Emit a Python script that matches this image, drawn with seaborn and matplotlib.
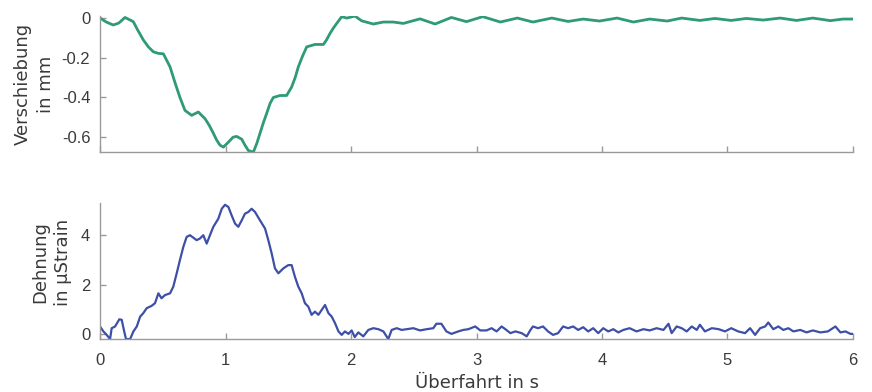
import numpy as np
import pandas as pd
import matplotlib
matplotlib.use("Agg")
import matplotlib.pyplot as plt
import seaborn as sns

# ---- data: displacement (mm) ----
t_disp = [0.0, 0.05, 0.106, 0.15, 0.199, 0.265, 0.30, 0.345, 0.385, 0.425, 0.465, 0.505, 0.558,
          0.60, 0.637, 0.677, 0.73, 0.783, 0.837, 0.87, 0.903, 0.93, 0.956, 0.983, 1.023, 1.06,
          1.089, 1.129, 1.155, 1.182, 1.222, 1.25, 1.275, 1.30, 1.328, 1.355, 1.381, 1.434, 1.487,
          1.527, 1.555, 1.58, 1.615, 1.647, 1.713, 1.78, 1.805, 1.833, 1.86, 1.886, 1.926, 1.966,
          2.032, 2.085, 2.178, 2.258, 2.337, 2.417, 2.55, 2.67, 2.80, 2.92, 3.05, 3.19, 3.325,
          3.45, 3.60, 3.73, 3.85, 3.98, 4.12, 4.25, 4.38, 4.52, 4.635, 4.78, 4.90, 5.03, 5.15,
          5.285, 5.42, 5.55, 5.68, 5.82, 5.92, 6.0]
disp = [0.0, -0.02, -0.035, -0.025, 0.003, -0.018, -0.06, -0.11, -0.145, -0.17, -0.178, -0.18, -0.246,
        -0.33, -0.40, -0.465, -0.49, -0.473, -0.507, -0.54, -0.58, -0.615, -0.64, -0.65, -0.625, -0.60,
        -0.596, -0.61, -0.64, -0.667, -0.675, -0.63, -0.58, -0.53, -0.48, -0.43, -0.40, -0.39, -0.39,
        -0.347, -0.30, -0.246, -0.19, -0.145, -0.133, -0.133, -0.11, -0.077, -0.05, -0.027, 0.007, 0.0,
        0.01, -0.014, -0.03, -0.02, -0.02, -0.027, -0.004, -0.03, 0.003, -0.018, 0.007, -0.02, 0.0,
        -0.02, 0.0, -0.017, -0.005, -0.015, 0.0, -0.02, -0.005, -0.015, 0.0, -0.012, -0.002, -0.012, -0.002,
        -0.01, 0.0, -0.012, 0.0, -0.013, -0.005, -0.005]

# ---- data: strain (µStrain) ----
t_strain = [0.0, 0.027, 0.053, 0.08, 0.093, 0.12, 0.154, 0.173, 0.19, 0.207, 0.24, 0.266, 0.293,
            0.32, 0.345, 0.372, 0.41, 0.438, 0.465, 0.49, 0.518, 0.558, 0.584, 0.611, 0.637, 0.664,
            0.69, 0.717, 0.743, 0.77, 0.797, 0.823, 0.85, 0.876, 0.903, 0.943, 0.97, 0.996, 1.023,
            1.049, 1.076, 1.102, 1.129, 1.155, 1.182, 1.208, 1.235, 1.275, 1.315, 1.341, 1.368,
            1.394, 1.421, 1.461, 1.5, 1.527, 1.553, 1.58, 1.607, 1.633, 1.66, 1.686, 1.713, 1.74,
            1.766, 1.793, 1.82, 1.846, 1.873, 1.9, 1.926, 1.952, 1.98, 2.005, 2.03, 2.058, 2.098,
            2.138, 2.178, 2.218, 2.258, 2.297, 2.324, 2.364, 2.404, 2.444, 2.497, 2.55, 2.603, 2.656,
            2.68, 2.72, 2.76, 2.80, 2.855, 2.895, 2.935, 2.99, 3.03, 3.08, 3.12, 3.16, 3.20, 3.23,
            3.27, 3.31, 3.36, 3.40, 3.43, 3.45, 3.49, 3.53, 3.57, 3.61, 3.65, 3.69, 3.73, 3.77, 3.81,
            3.85, 3.89, 3.93, 3.97, 4.01, 4.05, 4.09, 4.13, 4.17, 4.22, 4.275, 4.33, 4.38, 4.435,
            4.49, 4.53, 4.555, 4.595, 4.635, 4.675, 4.715, 4.755, 4.78, 4.82, 4.875, 4.93, 4.98,
            5.03, 5.085, 5.14, 5.18, 5.22, 5.26, 5.30, 5.325, 5.365, 5.405, 5.445, 5.485, 5.525,
            5.58, 5.63, 5.68, 5.74, 5.80, 5.86, 5.90, 5.94, 5.98, 6.0]
strain = [0.31, 0.11, -0.03, -0.2, 0.24, 0.31, 0.6, 0.58, 0.17, -0.2, -0.2, 0.11, 0.31,
          0.71, 0.85, 1.05, 1.14, 1.25, 1.65, 1.45, 1.58, 1.65, 1.92, 2.46, 3.0, 3.53,
          3.93, 4.0, 3.9, 3.8, 3.87, 4.0, 3.66, 4.0, 4.34, 4.67, 5.07, 5.23, 5.14,
          4.8, 4.47, 4.34, 4.6, 4.87, 4.94, 5.07, 4.94, 4.6, 4.27, 3.8, 3.26,
          2.66, 2.46, 2.66, 2.79, 2.79, 2.32, 1.92, 1.65, 1.25, 1.11, 0.78, 0.91, 0.78,
          0.98, 1.18, 0.85, 0.71, 0.44, 0.11, -0.03, 0.11, 0.01, 0.15, -0.12, 0.07, -0.09,
          0.17, 0.24, 0.2, 0.11, -0.2, 0.17, 0.24, 0.17, 0.2, 0.24, 0.15, 0.2, 0.24,
          0.42, 0.42, 0.11, 0.01, 0.11, 0.17, 0.2, 0.31, 0.15, 0.15, 0.24, 0.11, 0.31, 0.2,
          0.04, 0.11, 0.04, -0.09, 0.17, 0.31, 0.24, 0.31, 0.11, -0.03, 0.04, 0.31, 0.24, 0.31, 0.17,
          0.28, 0.11, 0.24, 0.04, 0.24, 0.11, 0.2, 0.07, 0.17, 0.24, 0.11, 0.2, 0.15, 0.24,
          0.17, 0.42, 0.04, 0.31, 0.24, 0.11, 0.31, 0.17, 0.38, 0.11, 0.24, 0.2, 0.11,
          0.24, 0.11, 0.04, 0.24, -0.03, 0.24, 0.31, 0.47, 0.2, 0.31, 0.17, 0.24, 0.11,
          0.17, 0.07, 0.15, 0.07, 0.11, 0.31, 0.07, 0.11, 0.01, 0.01]

x_ticks = [0, 1, 2, 3, 4, 5, 6]
top_yticks = [0, -0.2, -0.4, -0.6]
top_yticklabels = ["0", "-0.2", "-0.4", "-0.6"]
bot_yticks = [0, 2, 4]

df_disp = pd.DataFrame({"t": t_disp, "v": disp})
df_strain = pd.DataFrame({"t": t_strain, "v": strain})

sns.set_style("ticks")
plt.rcParams["font.family"] = ["Liberation Sans", "DejaVu Sans"]

fig = plt.figure(figsize=(8.72, 3.92), dpi=100)
ax1 = fig.add_axes([0.1147, 0.612, 0.8635, 0.347])
ax2 = fig.add_axes([0.1147, 0.135, 0.8635, 0.347])

spine_col = "#9a9a9a"
text_col = "#3a3a3a"
label_font = dict(family="DejaVu Sans", size=13, color=text_col, linespacing=1.35)

sns.lineplot(data=df_disp, x="t", y="v", ax=ax1, color="#2e9a78", linewidth=2.0, sort=False)
sns.lineplot(data=df_strain, x="t", y="v", ax=ax2, color="#3d4fa6", linewidth=1.6, sort=False)

for ax in (ax1, ax2):
    ax.set_xlim(0, 6)
    ax.set_xticks(x_ticks)
    for s in ("top", "right"):
        ax.spines[s].set_visible(False)
    for s in ("left", "bottom"):
        ax.spines[s].set_color(spine_col)
        ax.spines[s].set_linewidth(1.0)
    ax.tick_params(direction="in", length=4, width=1.0, color=spine_col,
                   labelsize=12, labelcolor=text_col)
    ax.tick_params(axis="y", pad=7)
    ax.tick_params(axis="x", pad=10)

ax1.set_ylim(-0.675, 0.01)
ax1.set_yticks(top_yticks)
ax1.set_yticklabels(top_yticklabels)
ax1.tick_params(axis="x", labelbottom=False)
ax1.set_xlabel("")
ax1.set_ylabel("Verschiebung\nin mm", **label_font)
ax1.yaxis.set_label_coords(-0.060, 0.5)

ax2.set_ylim(-0.2, 5.3)
ax2.set_yticks(bot_yticks)
ax2.set_xticklabels([str(v) for v in x_ticks])
ax2.set_xlabel("Überfahrt in s", **label_font)
ax2.xaxis.set_label_coords(0.5, -0.255)
ax2.set_ylabel("Dehnung\nin µStrain", **label_font)
ax2.yaxis.set_label_coords(-0.037, 0.566)

fig.savefig("out.png", dpi=100)
